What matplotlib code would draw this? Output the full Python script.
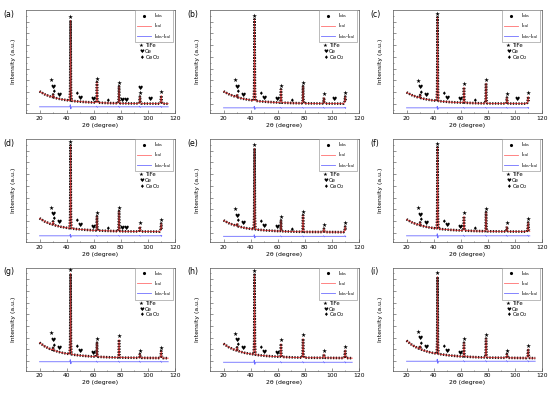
import numpy as np
import matplotlib
matplotlib.use('Agg')
import matplotlib.pyplot as plt
from matplotlib.lines import Line2D
from matplotlib.ticker import FixedLocator, AutoMinorLocator

# ---------------- data ----------------
panel_labels = ['(a)', '(b)', '(c)', '(d)', '(e)', '(f)', '(g)', '(h)', '(i)']

# background level of the pattern (a.u.) at these 2-theta values
bg_two_theta = [20, 24, 28, 32, 36, 40, 46, 52, 60, 70, 80, 95, 115]
background = [
    [21, 18.0, 16.0, 14.5, 13.3, 12.5, 11.5, 10.8, 10.2, 9.7, 9.4, 9.2, 9.0],
    [21, 18.2, 16.2, 14.6, 13.4, 12.5, 11.5, 10.8, 10.2, 9.7, 9.4, 9.2, 9.0],
    [20, 17.3, 15.4, 14.0, 12.9, 12.2, 11.3, 10.6, 10.1, 9.6, 9.3, 9.2, 9.0],
    [23, 19.8, 17.6, 16.0, 14.7, 13.8, 12.7, 12.0, 11.3, 10.8, 10.4, 10.2, 10.0],
    [21, 18.2, 16.3, 14.8, 13.6, 12.8, 11.9, 11.2, 10.6, 10.1, 9.8, 9.7, 9.5],
    [22, 19.0, 17.0, 15.5, 14.3, 13.5, 12.5, 11.8, 11.2, 10.7, 10.4, 10.2, 10.0],
    [27, 23.3, 20.7, 18.9, 17.4, 16.4, 15.2, 14.3, 13.5, 12.9, 12.5, 12.3, 12.0],
    [26, 22.5, 20.1, 18.4, 17.0, 16.1, 14.9, 14.1, 13.4, 12.8, 12.4, 12.3, 12.0],
    [29, 24.8, 21.9, 19.8, 18.1, 16.9, 15.6, 14.6, 13.7, 13.0, 12.5, 12.3, 12.0],
]

# TiFe reflections and the peak-top intensity in each panel
tife_two_theta = [42.9, 62.4, 78.7, 94.1, 109.8]
tife_half_width = [0.7, 0.8, 0.9, 1.1, 1.3]
tife_peak_top = [
    [90, 30, 26, 16, 17],
    [91, 23, 26, 15, 16],
    [93, 25, 29, 15, 16],
    [94, 25, 30, 15, 18],
    [91, 21, 26, 13, 15],
    [92, 25, 29, 15, 19],
    [94, 27, 30, 16, 19],
    [93, 26, 31, 16, 20],
    [91, 27, 31, 16, 21],
]
# peak profile: relative offsets and height fractions
profile_offset = [-1.0, -0.4, 0.0, 0.4, 1.0]
profile_fraction = [0.0, 0.15, 1.0, 0.15, 0.0]

# small reflection near 30 deg
minor_two_theta = 30.0
minor_half_width = 0.7
minor_peak_top = [18, 18, 17.5, 20, 18, 19, 22, 22.5, 24]

# last measured 2-theta in each panel
data_end = [115, 110.2, 110.2, 110.2, 110.2, 111, 115, 115, 115]

# difference curve level and its swing at the strongest peak
diff_level = [6, 5, 5, 6, 5.5, 6, 8.5, 8, 9]
diff_swing = [2.0, 1.5, 1.5, 1.5, 1.5, 2.0, 2.0, 2.0, 2.0]
diff_swing_small = [0.6, 0.5, 0.5, 0.5, 0.5, 0.6, 0.6, 0.6, 0.6]

# phase markers (2-theta)
marker_tife_extra = [28.6]
ce_two_theta = [30.0, 34.7, 49.9, 59.3]
ce_extra = [[80.8, 84.2, 94.1, 101.5], [101.5], [101.5], [80.8, 84.2],
            [], [], [], [], []]
ceo2_two_theta = [30.0, 47.5]
ceo2_extra = [[69.8], [69.8], [69.8], [69.8], [69.8], [69.8], [], [], []]

legend_labels = [r'I$_{\rm obs}$', r'I$_{\rm cal}$', r'I$_{\rm obs}$-I$_{\rm cal}$']
phase_labels = ['TiFe', 'Ce', r'CeO$_2$']
x_ticks = [20, 40, 60, 80, 100, 120]

# ---------------- styling / layout ----------------
FIG_W, FIG_H = 550, 394
col_left = [26, 210, 393]
row_top = [10, 139, 267.5]
ax_w, ax_h = 149, 103
GLYPH = {'TiFe': '\u2605', 'Ce': '\u2665', 'CeO2': '\u2666'}
# vertical offsets of phase glyphs above the curve (a.u.)
OFFSET = {('TiFe', 28.6): 15.5, ('Ce', 30.0): 7.0, ('CeO2', 30.0): 2.5,
          ('Ce', 34.7): 3.5, ('CeO2', 47.5): 8.0, ('Ce', 49.9): 3.5,
          ('Ce', 59.3): 3.0, ('CeO2', 69.8): 2.5, ('Ce', 80.8): 3.0,
          ('Ce', 84.2): 3.0, ('Ce', 94.1): 7.5, ('Ce', 101.5): 3.5}

plt.rcParams['font.family'] = ['DejaVu Sans']
plt.rcParams['mathtext.default'] = 'regular'

fig = plt.figure(figsize=(FIG_W / 100, FIG_H / 100), dpi=100)


def build_pattern(i):
    xs = list(bg_two_theta)
    for c, w in zip(tife_two_theta, tife_half_width):
        xs += [c + o * w for o in profile_offset]
    xs += [minor_two_theta + o * minor_half_width for o in profile_offset]
    xs = np.array(sorted(set(xs)))
    y = np.interp(xs, bg_two_theta, background[i])
    for c, w, top in zip(tife_two_theta, tife_half_width, tife_peak_top[i]):
        h = top - np.interp(c, bg_two_theta, background[i])
        px = np.array([c + o * w for o in profile_offset])
        y = y + np.interp(xs, px, np.array(profile_fraction) * h, left=0, right=0)
    h = minor_peak_top[i] - np.interp(minor_two_theta, bg_two_theta, background[i])
    px = np.array([minor_two_theta + o * minor_half_width for o in profile_offset])
    y = y + np.interp(xs, px, np.array(profile_fraction) * h, left=0, right=0)
    end = data_end[i]
    keep = xs < end
    y_end = np.interp(end, xs, y)
    xs = np.append(xs[keep], end)
    y = np.append(y[keep], y_end)
    return xs, y


def build_diff(i):
    xs = [20.0]
    ys = [diff_level[i]]
    for k, c in enumerate(tife_two_theta):
        s = diff_swing[i] if k == 0 else diff_swing_small[i]
        xs += [c - 0.6, c - 0.2, c + 0.2, c + 0.6]
        ys += [diff_level[i], diff_level[i] + s, diff_level[i] - s, diff_level[i]]
    xs.append(data_end[i])
    ys.append(diff_level[i])
    xs, ys = np.array(xs), np.array(ys)
    keep = xs <= data_end[i]
    return xs[keep], ys[keep]


for i in range(9):
    r, c = divmod(i, 3)
    rect = [col_left[c] / FIG_W, (FIG_H - row_top[r] - ax_h) / FIG_H,
            ax_w / FIG_W, ax_h / FIG_H]
    ax = fig.add_axes(rect)
    x, y = build_pattern(i)
    dx, dy = build_diff(i)

    ax.plot(x, y, color='#ff4a4a', lw=0.6, zorder=3)
    ax.plot(x, y, color='#120000', lw=1.9, ls=(0, (0.5, 0.55)), zorder=4,
            alpha=0.9)
    ax.plot(x, y, color='#ff4a4a', lw=0.35, zorder=4.5, alpha=0.7)
    ax.plot(dx, dy, color='#6a6aff', lw=0.6, zorder=2)

    # phase glyphs
    def put(kind, xx, yy, size=4.2):
        ax.text(xx, yy, GLYPH[kind], fontsize=size, ha='center', va='center',
                color='black', zorder=5)

    for cc, top in zip(tife_two_theta, tife_peak_top[i]):
        if cc > data_end[i] + 0.5:
            continue
        put('TiFe', cc, top + 2.8)
    for cc in marker_tife_extra:
        put('TiFe', cc, np.interp(cc, x, y) + OFFSET[('TiFe', cc)])
    for cc in ce_two_theta + ce_extra[i]:
        put('Ce', cc, np.interp(cc, x, y) + OFFSET[('Ce', cc)], size=4.2)
    for cc in ceo2_two_theta + ceo2_extra[i]:
        put('CeO2', cc, np.interp(cc, x, y) + OFFSET[('CeO2', cc)], size=3.8)

    ax.set_xlim(10, 120)
    ax.set_ylim(0, 100)
    ax.set_xticks(x_ticks)
    ax.xaxis.set_minor_locator(AutoMinorLocator(2))
    ax.yaxis.set_major_locator(FixedLocator(np.arange(9, 100, 11.4)))
    ax.yaxis.set_minor_locator(AutoMinorLocator(2))
    ax.set_yticklabels([])
    ax.tick_params(axis='both', which='both', direction='in', labelsize=4.3,
                   width=0.4, color='#444444', pad=2)
    ax.tick_params(axis='both', which='major', length=2)
    ax.tick_params(axis='both', which='minor', length=1)
    for sp in ax.spines.values():
        sp.set_linewidth(0.5)
        sp.set_color('#555555')
    ax.set_xlabel('2\u03b8 (degree)', fontsize=4.4, labelpad=1.5)
    ax.set_ylabel('Intensity (a.u.)', fontsize=4.4, labelpad=5)

    handles = [Line2D([], [], ls='none', marker='.', color='black', ms=2.5),
               Line2D([], [], color='#ff7070', lw=0.6),
               Line2D([], [], color='#7070ff', lw=0.6)]
    leg = ax.legend(handles, legend_labels, loc='upper right',
                    bbox_to_anchor=(0.985, 1.0), borderaxespad=0,
                    fontsize=3.5, handlelength=3.0, handletextpad=0.5,
                    borderpad=0.3, labelspacing=0.25, fancybox=False,
                    framealpha=1)
    leg.get_frame().set_linewidth(0.4)
    leg.get_frame().set_edgecolor('#888888')

    # phase key
    for k, (kind, lab) in enumerate(zip(['TiFe', 'Ce', 'CeO2'], phase_labels)):
        yy = 0.655 - 0.058 * k
        ax.text(0.775, yy, GLYPH[kind], transform=ax.transAxes, fontsize=3.9,
                ha='center', va='center')
        ax.text(0.80, yy, lab, transform=ax.transAxes, fontsize=3.9,
                ha='left', va='center')

    ax.text(-0.155, 0.96, panel_labels[i], transform=ax.transAxes,
            fontsize=5.6, ha='left', va='center')

fig.savefig('out.png', dpi=100)
